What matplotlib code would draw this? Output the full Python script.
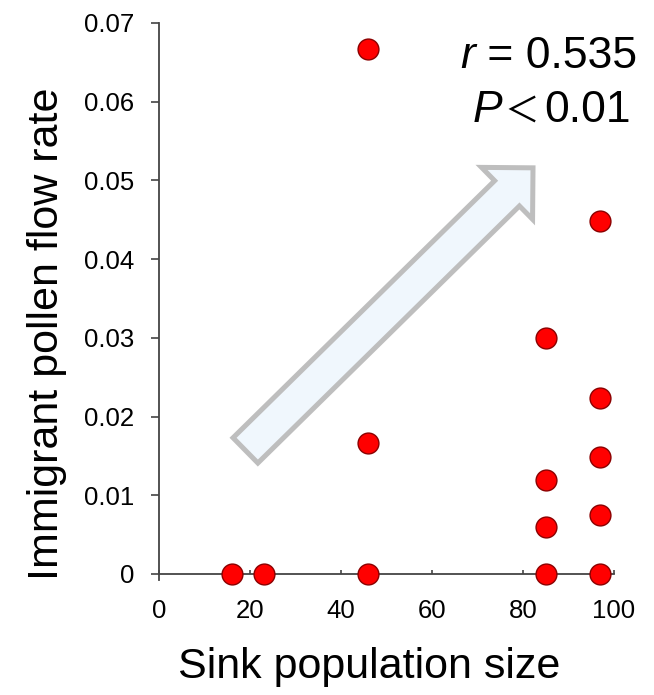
import matplotlib
matplotlib.use("Agg")
import matplotlib.pyplot as plt
import numpy as np
from matplotlib.patches import Polygon
from matplotlib.transforms import IdentityTransform

plt.rcParams["font.family"] = ["Liberation Sans", "Noto Sans CJK JP", "DejaVu Sans"]

# sink population size vs immigrant pollen flow rate
pop_size = [16, 23, 46, 46, 46, 85, 85, 85, 85, 97, 97, 97, 97, 97]
flow_rate = [0.0, 0.0, 0.0, 0.0166, 0.0667,
             0.0, 0.0060, 0.0119, 0.0300,
             0.0, 0.0075, 0.0149, 0.0224, 0.0449]

y_ticks = [0, 0.01, 0.02, 0.03, 0.04, 0.05, 0.06, 0.07]
y_tick_labels = ["0", "0.01", "0.02", "0.03", "0.04", "0.05", "0.06", "0.07"]
x_ticks = [0, 20, 40, 60, 80, 100]

W, H = 654, 695
fig = plt.figure(figsize=(W / 100, H / 100), dpi=100)
ax = fig.add_axes([159 / W, 115.5 / H, 455 / W, 556.5 / H])

ax.scatter(pop_size, flow_rate, s=15 ** 2, color="#FF0000",
           edgecolor="#8B0000", linewidth=1, zorder=5, clip_on=False)

ax.set_xlim(0, 100)
ax.set_ylim(-0.0007, 0.07)
ax.set_yticks(y_ticks)
ax.set_yticklabels(y_tick_labels)
ax.set_xticks(x_ticks)

for side in ["top", "right"]:
    ax.spines[side].set_visible(False)
ax.spines["bottom"].set_position(("data", 0))
for side in ["left", "bottom"]:
    ax.spines[side].set_color("#444444")
    ax.spines[side].set_linewidth(1.3)

ax.tick_params(axis="y", direction="out", length=6, width=1.2,
               color="#444444", pad=12, labelsize=18.5)
ax.tick_params(axis="x", direction="in", length=3, width=1.2,
               color="#444444", pad=18, labelsize=18.5)

fig.text(47 / W, 0.52, "Immigrant pollen flow rate", rotation=90,
         ha="center", va="center", fontsize=31)
fig.text(369 / W, 17 / H, "Sink population size", ha="center",
         va="baseline", fontsize=31)

# correlation statistics
fig.canvas.draw()
rend = fig.canvas.get_renderer()
t1 = fig.text(637 / W, 1 - 68 / H, " = 0.535", ha="right", va="baseline",
              fontsize=32)
bb = t1.get_window_extent(rend)
fig.text(bb.x0 / W, 1 - 68 / H, "r", ha="right", va="baseline",
         fontsize=32, style="italic")
y2 = 1 - 122 / H
fig.text(631 / W, y2, "0.01", ha="right", va="baseline", fontsize=32)
fig.text(522 / W, y2, "＜", ha="center", va="baseline", fontsize=25)
fig.text(502 / W, y2, "P", ha="right", va="baseline", fontsize=32,
         style="italic")

# trend arrow, tail and tip in data coordinates, widths in pixels
tail = ax.transData.transform((19.0, 0.0157))
tip = ax.transData.transform((82.2, 0.0516))
d = (tip - tail) / np.linalg.norm(tip - tail)
n = np.array([-d[1], d[0]])
shaft_hw, head_hw, head_len = 17.7, 36.4, 36.4
base = tip - d * head_len
pts = [tail + n * shaft_hw, base + n * shaft_hw, base + n * head_hw, tip,
       base - n * head_hw, base - n * shaft_hw, tail - n * shaft_hw]
arrow = Polygon(pts, closed=True, transform=IdentityTransform(),
                facecolor="#F0F7FD", edgecolor="#BEBEBE", linewidth=3.6,
                joinstyle="miter")
fig.patches.append(arrow)

fig.savefig("out.png", dpi=100)
